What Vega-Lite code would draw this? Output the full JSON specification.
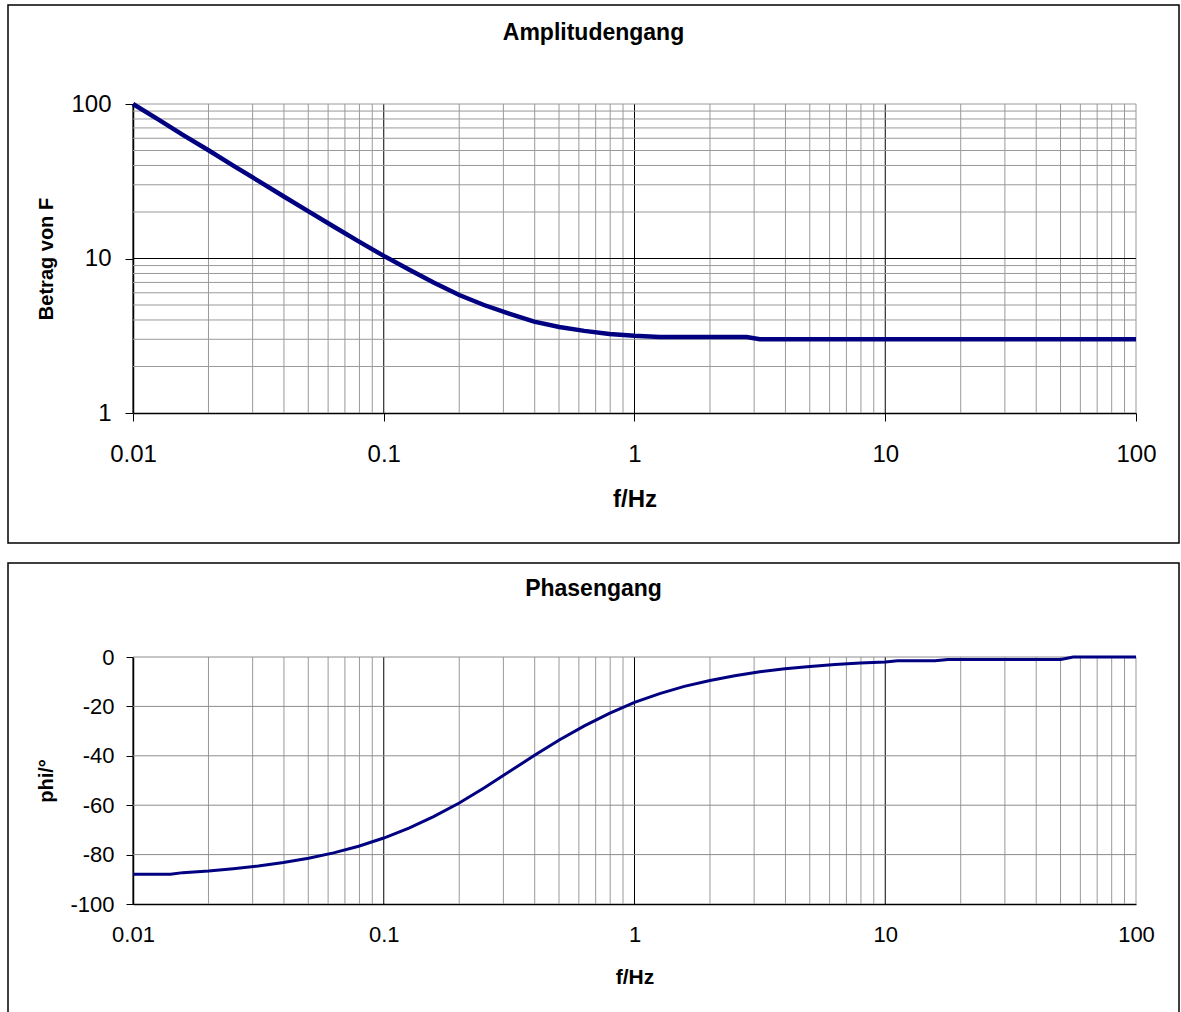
{
  "$schema": "https://vega.github.io/schema/vega-lite/v6.json",
  "background": "white",
  "padding": {"left": 7, "top": 4, "right": 0, "bottom": 0},
  "spacing": 18,
  "datasets": {
    "amplitude": [
      {"f": 0.01, "betrag": 100},
      {"f": 0.0126, "betrag": 79.5},
      {"f": 0.0158, "betrag": 63.2},
      {"f": 0.02, "betrag": 50.2},
      {"f": 0.0251, "betrag": 39.9},
      {"f": 0.0316, "betrag": 31.8},
      {"f": 0.0398, "betrag": 25.3},
      {"f": 0.0501, "betrag": 20.2},
      {"f": 0.0631, "betrag": 16.1},
      {"f": 0.0794, "betrag": 12.9},
      {"f": 0.1, "betrag": 10.4},
      {"f": 0.126, "betrag": 8.5},
      {"f": 0.158, "betrag": 7.0},
      {"f": 0.2, "betrag": 5.8},
      {"f": 0.251, "betrag": 5.0},
      {"f": 0.316, "betrag": 4.4},
      {"f": 0.398, "betrag": 3.9},
      {"f": 0.501, "betrag": 3.6},
      {"f": 0.631, "betrag": 3.4},
      {"f": 0.794, "betrag": 3.25},
      {"f": 1, "betrag": 3.16},
      {"f": 1.26, "betrag": 3.1},
      {"f": 1.58, "betrag": 3.1},
      {"f": 2, "betrag": 3.1},
      {"f": 2.8, "betrag": 3.1},
      {"f": 3.16, "betrag": 3.0},
      {"f": 5.01, "betrag": 3.0},
      {"f": 10, "betrag": 3.0},
      {"f": 20, "betrag": 3.0},
      {"f": 50.1, "betrag": 3.0},
      {"f": 100, "betrag": 3.0}
    ],
    "phase": [
      {"f": 0.01, "phi": -88},
      {"f": 0.0126, "phi": -88},
      {"f": 0.0141, "phi": -88},
      {"f": 0.0158, "phi": -87.3},
      {"f": 0.02, "phi": -86.6},
      {"f": 0.0251, "phi": -85.7},
      {"f": 0.0316, "phi": -84.6},
      {"f": 0.0398, "phi": -83.2},
      {"f": 0.0501, "phi": -81.5},
      {"f": 0.0631, "phi": -79.3},
      {"f": 0.0794, "phi": -76.6},
      {"f": 0.1, "phi": -73.3},
      {"f": 0.126, "phi": -69.3},
      {"f": 0.158, "phi": -64.6},
      {"f": 0.2, "phi": -59.1},
      {"f": 0.251, "phi": -53.0},
      {"f": 0.316, "phi": -46.5},
      {"f": 0.398, "phi": -39.9},
      {"f": 0.501, "phi": -33.6},
      {"f": 0.631, "phi": -27.9},
      {"f": 0.794, "phi": -22.8},
      {"f": 1, "phi": -18.4},
      {"f": 1.26, "phi": -14.8},
      {"f": 1.58, "phi": -11.9},
      {"f": 2, "phi": -9.5},
      {"f": 2.51, "phi": -7.6},
      {"f": 3.16, "phi": -6.0},
      {"f": 3.98, "phi": -4.8},
      {"f": 5.01, "phi": -3.8},
      {"f": 6.31, "phi": -3.0},
      {"f": 7.94, "phi": -2.4},
      {"f": 10, "phi": -2.0},
      {"f": 11.2, "phi": -1.5},
      {"f": 15.8, "phi": -1.5},
      {"f": 17.8, "phi": -1.0},
      {"f": 50.1, "phi": -1.0},
      {"f": 56.2, "phi": 0},
      {"f": 100, "phi": 0}
    ],
    "fGrid": [
      {"v": 0.01}, {"v": 0.02}, {"v": 0.03}, {"v": 0.04}, {"v": 0.05}, {"v": 0.06}, {"v": 0.07}, {"v": 0.08}, {"v": 0.09},
      {"v": 0.1}, {"v": 0.2}, {"v": 0.3}, {"v": 0.4}, {"v": 0.5}, {"v": 0.6}, {"v": 0.7}, {"v": 0.8}, {"v": 0.9},
      {"v": 1}, {"v": 2}, {"v": 3}, {"v": 4}, {"v": 5}, {"v": 6}, {"v": 7}, {"v": 8}, {"v": 9},
      {"v": 10}, {"v": 20}, {"v": 30}, {"v": 40}, {"v": 50}, {"v": 60}, {"v": 70}, {"v": 80}, {"v": 90},
      {"v": 100}
    ],
    "betragGrid": [
      {"v": 2}, {"v": 3}, {"v": 4}, {"v": 5}, {"v": 6}, {"v": 7}, {"v": 8}, {"v": 9},
      {"v": 10}, {"v": 20}, {"v": 30}, {"v": 40}, {"v": 50}, {"v": 60}, {"v": 70}, {"v": 80}, {"v": 90},
      {"v": 100}
    ],
    "phiGrid": [
      {"v": -80}, {"v": -60}, {"v": -40}, {"v": -20}, {"v": 0}
    ]
  },
  "vconcat": [
    {
      "width": 1171,
      "height": 538,
      "title": {"text": "Amplitudengang", "fontSize": 23, "offset": -40},
      "layer": [
        {
          "data": {"name": "fGrid"},
          "mark": {"type": "rule", "strokeWidth": 1},
          "encoding": {
            "x": {"field": "v", "type": "quantitative",
                  "scale": {"type": "log", "domain": [0.01, 100], "range": [125, 1128], "nice": false}},
            "y": {"datum": 1, "type": "quantitative",
                  "scale": {"type": "log", "domain": [1, 100], "range": [408, 99], "nice": false}},
            "y2": {"datum": 100},
            "color": {"condition": {"test": "abs(log(datum.v)/LN10 - round(log(datum.v)/LN10)) < 0.001 && datum.v < 99", "value": "#000000"}, "value": "#999999"}
          }
        },
        {
          "data": {"name": "betragGrid"},
          "mark": {"type": "rule", "strokeWidth": 1},
          "encoding": {
            "y": {"field": "v", "type": "quantitative",
                  "scale": {"type": "log", "domain": [1, 100], "range": [408, 99], "nice": false}},
            "x": {"datum": 0.01, "type": "quantitative",
                  "scale": {"type": "log", "domain": [0.01, 100], "range": [125, 1128], "nice": false}},
            "x2": {"datum": 100},
            "color": {"condition": {"test": "datum.v > 9 && datum.v < 11", "value": "#000000"}, "value": "#999999"}
          }
        },
        {
          "data": {"name": "amplitude"},
          "mark": {"type": "line", "color": "#000080", "strokeWidth": 4.5, "strokeCap": "butt"},
          "encoding": {
            "x": {
              "field": "f",
              "type": "quantitative",
              "scale": {"type": "log", "domain": [0.01, 100], "range": [125, 1128], "nice": false},
              "axis": {
                "title": "f/Hz",
                "titleFontSize": 24,
                "titleY": 86,
                "titleBaseline": "middle",
                "offset": -130,
                "values": [0.01, 0.1, 1, 10, 100],
                "labelExpr": "format(datum.value, '~g')",
                "labelFontSize": 24,
                "labelPadding": 21,
                "tickSize": 8
              }
            },
            "y": {
              "field": "betrag",
              "type": "quantitative",
              "scale": {"type": "log", "domain": [1, 100], "range": [408, 99], "nice": false},
              "axis": {
                "title": "Betrag von F",
                "titleFontSize": 20,
                "titleX": -87,
                "titleBaseline": "middle",
                "offset": -125,
                "values": [1, 10, 100],
                "labelExpr": "format(datum.value, '~g')",
                "labelFontSize": 24,
                "labelPadding": 14,
                "tickSize": 8
              }
            }
          }
        }
      ]
    },
    {
      "width": 1171,
      "height": 455,
      "title": {"text": "Phasengang", "fontSize": 23, "offset": -38},
      "layer": [
        {
          "data": {"name": "fGrid"},
          "mark": {"type": "rule", "strokeWidth": 1},
          "encoding": {
            "x": {"field": "v", "type": "quantitative",
                  "scale": {"type": "log", "domain": [0.01, 100], "range": [125, 1128], "nice": false}},
            "y": {"datum": -100, "type": "quantitative",
                  "scale": {"type": "linear", "domain": [-100, 0], "range": [341, 94], "nice": false, "zero": false}},
            "y2": {"datum": 0},
            "color": {"condition": {"test": "abs(log(datum.v)/LN10 - round(log(datum.v)/LN10)) < 0.001 && datum.v < 99", "value": "#000000"}, "value": "#999999"}
          }
        },
        {
          "data": {"name": "phiGrid"},
          "mark": {"type": "rule", "strokeWidth": 1, "color": "#8c8c8c"},
          "encoding": {
            "y": {"field": "v", "type": "quantitative",
                  "scale": {"type": "linear", "domain": [-100, 0], "range": [341, 94], "nice": false, "zero": false}},
            "x": {"datum": 0.01, "type": "quantitative",
                  "scale": {"type": "log", "domain": [0.01, 100], "range": [125, 1128], "nice": false}},
            "x2": {"datum": 100}
          }
        },
        {
          "data": {"name": "phase"},
          "mark": {"type": "line", "color": "#000080", "strokeWidth": 3, "strokeCap": "butt"},
          "encoding": {
            "x": {
              "field": "f",
              "type": "quantitative",
              "scale": {"type": "log", "domain": [0.01, 100], "range": [125, 1128], "nice": false},
              "axis": {
                "title": "f/Hz",
                "titleFontSize": 21,
                "titleY": 73,
                "titleBaseline": "middle",
                "offset": -114,
                "values": [0.01, 0.1, 1, 10, 100],
                "labelExpr": "format(datum.value, '~g')",
                "labelFontSize": 22,
                "labelPadding": 20,
                "ticks": false
              }
            },
            "y": {
              "field": "phi",
              "type": "quantitative",
              "scale": {"type": "linear", "domain": [-100, 0], "range": [341, 94], "nice": false, "zero": false},
              "axis": {
                "title": "phi/°",
                "titleFontSize": 20,
                "titleX": -87,
                "titleBaseline": "middle",
                "offset": -125,
                "values": [-100, -80, -60, -40, -20, 0],
                "labelExpr": "'' + datum.value",
                "labelFontSize": 22,
                "labelPadding": 12,
                "tickSize": 7
              }
            }
          }
        }
      ]
    }
  ],
  "config": {
    "font": "Liberation Sans",
    "view": {"stroke": "#000000", "strokeWidth": 1.5},
    "title": {"font": "Liberation Sans", "fontWeight": "bold", "color": "#000000", "anchor": "middle", "baseline": "middle"},
    "axis": {
      "grid": false,
      "labelFont": "Liberation Sans",
      "labelColor": "#000000",
      "labelOverlap": false,
      "labelFlush": false,
      "labelBound": false,
      "titleFont": "Liberation Sans",
      "titleFontWeight": "bold",
      "titleColor": "#000000",
      "domainColor": "#000000",
      "domainWidth": 1.5,
      "tickColor": "#000000",
      "tickWidth": 1
    }
  }
}
